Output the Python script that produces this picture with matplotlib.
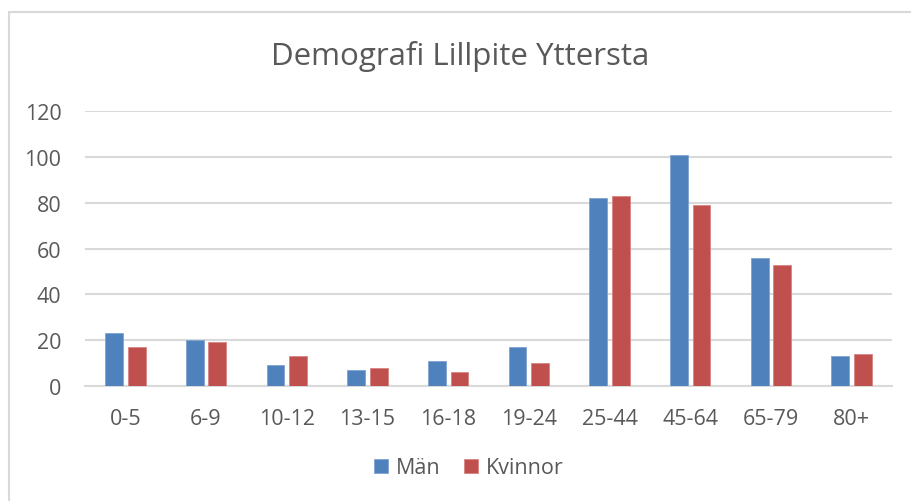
import matplotlib
matplotlib.use("Agg")
import matplotlib.pyplot as plt
import numpy as np
from matplotlib.patches import Rectangle

categories = ["0-5", "6-9", "10-12", "13-15", "16-18", "19-24", "25-44", "45-64", "65-79", "80+"]
man = [23, 20, 9, 7, 11, 17, 82, 101, 56, 13]
kvinnor = [17, 19, 13, 8, 6, 10, 83, 79, 53, 14]
yticks = [0, 20, 40, 60, 80, 100, 120]

W, H = 911, 502
plt.rcParams['font.family'] = ['Open Sans', 'DejaVu Sans']
fig = plt.figure(figsize=(W / 100, H / 100), dpi=100)

ax = fig.add_axes([85 / W, 1 - 387 / H, (892 - 85) / W, (387 - 112) / H])
x = np.arange(len(categories))
bw = 0.22
off = 0.14
ax.bar(x - off, man, bw, color="#4F81BD", edgecolor="#7FA3D0", linewidth=0.6, label="Män", zorder=3)
ax.bar(x + off, kvinnor, bw, color="#C0504D", edgecolor="#D88583", linewidth=0.6, label="Kvinnor", zorder=3)

ax.set_xlim(-0.5, len(categories) - 0.5)
ax.set_ylim(0, 120)
ax.set_yticks(yticks)
ax.set_xticks(x)
ax.set_xticklabels(categories)
ax.grid(axis="y", color="#D9D9D9", linewidth=1.5, zorder=0)
for s in ["top", "right", "left"]:
    ax.spines[s].set_visible(False)
ax.spines["bottom"].set_color("#D9D9D9")
ax.spines["bottom"].set_linewidth(1.5)
ax.tick_params(axis="both", length=0, labelsize=15.5, colors="#595959")
ax.tick_params(axis="y", pad=17)
ax.tick_params(axis="x", pad=16)

fig.text(460 / W, 1 - 56 / H, "Demografi Lillpite Yttersta", ha="center", va="center",
         fontsize=22.5, color="#595959")

leg = fig.legend(loc="center", bbox_to_anchor=(469 / W, 1 - 469 / H), ncol=2, frameon=False,
                 fontsize=15.5, handlelength=0.65, handleheight=0.65, columnspacing=1.1,
                 handletextpad=0.35)
for t in leg.get_texts():
    t.set_color("#595959")

fig.patches.append(Rectangle((9 / W, -0.1), 1.2, (H - 13) / H + 0.1, transform=fig.transFigure,
                             fill=False, edgecolor="#D9D9D9", linewidth=1.5))

fig.savefig("out.png", dpi=100)
